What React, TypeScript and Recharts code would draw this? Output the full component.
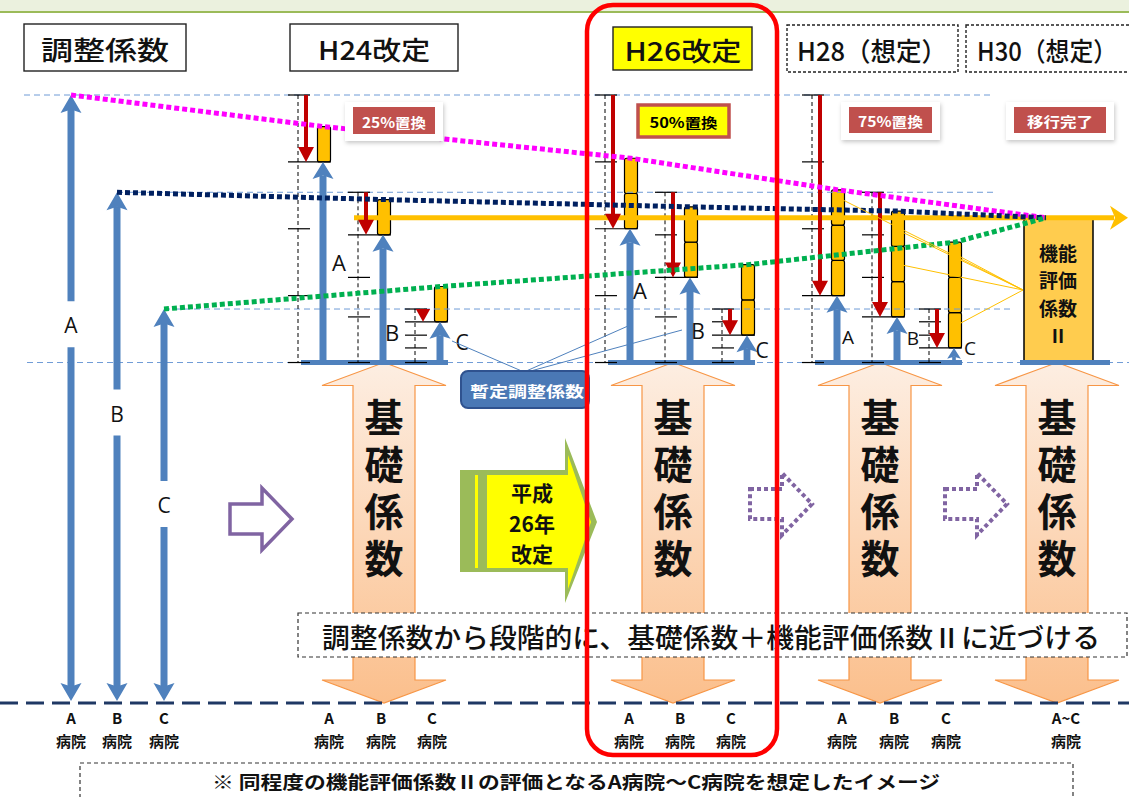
import React from 'react';
import { ComposedChart, XAxis, YAxis, Line, ReferenceLine, ReferenceArea } from 'recharts';

// ---- data (index: 0 = bottom dashed line, 100 = A病院の調整係数) ----
const stageNames = ['調整係数', 'H24改定', 'H26改定', 'H28（想定）', 'H30（想定）'];
const hospitals = ['A', 'B', 'C'];
const replaceNames = ['25%置換', '50%置換', '75%置換', '移行完了'];
const baseCoef = 56; // 基礎係数
// remaining adjustment level per stage: 調整係数, H24, H26, H28, H30
const levelA = [100, 89, 78, 67, 56];
const levelB = [84, 77, 70, 63.5, 56];
const levelC = [64.8, 62.7, 60.5, 58.4, 56];
// 機能評価係数Ⅱ replaced so far, per stage
const fevalPart = [0, 5.8, 11.6, 17.4, 23.8];
const targetCoef = baseCoef + fevalPart[4];

// ---- layout ----
const W = 1129;
const H = 797;
const PX = 6.08;
const ZERO_Y = 703;
const Y_DOMAIN = [(ZERO_Y - H) / PX, ZERO_Y / PX];
const LEFT_X = [71, 117, 164];
const STAGE_X = [323, 630, 837];
const HOSP_DX = [0, 60, 117];
const PEACH_X = [384, 673, 880, 1057];
const LEFT_LABEL_FRAC = [0.62, 0.565, 0.5];
const TREND_END_X = 1046;
const BLUE = '#4f81bd';
const RED = '#c00000';
const GOLD = '#ffc000';
const FONT = '"Noto Sans CJK JP", "Noto Sans", sans-serif';
const LATIN = '"Open Sans", "Noto Sans", sans-serif';
const levels = [levelA, levelB, levelC];
const trendColors = ['#ff00ff', '#002060', '#00b050'];

const head = (x: number, tip: number, dir: number, w: number, l: number, notch: number) => {
  const b = tip - dir * l;
  const n = tip - dir * l * notch;
  return `${x},${tip} ${x + w / 2},${b} ${x},${n} ${x - w / 2},${b}`;
};

const blueUpShape = (p: any) => {
  const x = p.x1, yb = p.y1, yt = p.y2;
  const len = yb - yt;
  const l = Math.min(17, len * 0.75);
  const w = Math.min(21, l * 1.25);
  return (
    <g>
      <line x1={x} y1={yb} x2={x} y2={yt + l * 0.8} stroke={BLUE} strokeWidth={Math.min(7, len / 4)} />
      <polygon points={head(x, yt, -1, w, l, 0.8)} fill={BLUE} />
    </g>
  );
};

const leftArrowShape = (label: string, frac: number) => (p: any) => {
  const x = p.x1, yb = p.y1 - 2, yt = p.y2;
  const ly = yb + (yt - yb) * frac;
  return (
    <g>
      <line x1={x} y1={yb - 14} x2={x} y2={ly + 22} stroke={BLUE} strokeWidth={7} />
      <line x1={x} y1={ly - 24} x2={x} y2={yt + 14} stroke={BLUE} strokeWidth={7} />
      <polygon points={head(x, yt, -1, 21, 18, 0.8)} fill={BLUE} />
      <polygon points={head(x, yb, 1, 21, 18, 0.8)} fill={BLUE} />
      <text x={x} y={ly} textAnchor="middle" dominantBaseline="central" fontFamily={LATIN} fontSize={21} fill="#111">
        {label}
      </text>
    </g>
  );
};

const redDownShape = (p: any) => {
  const x = p.x1, yt = p.y1, yb = p.y2;
  const len = yb - yt;
  const l = Math.min(15, len);
  const w = Math.min(16, 8 + len * 0.5);
  return (
    <g>
      {len > l && <line x1={x} y1={yt} x2={x} y2={yb - l + 1} stroke={RED} strokeWidth={4} />}
      <polygon points={head(x, yb, 1, w, l, 1)} fill={RED} />
    </g>
  );
};

const targetShape = (p: any) => (
  <g>
    <line x1={p.x1} y1={p.y1} x2={p.x2 - 14} y2={p.y2} stroke={GOLD} strokeWidth={5} />
    <polygon points={`${p.x2},${p.y2} ${p.x2 - 18},${p.y2 - 12} ${p.x2 - 13},${p.y2} ${p.x2 - 18},${p.y2 + 12}`} fill={GOLD} />
  </g>
);

const peachShape = (p: any) => {
  const cx = p.x + p.width / 2, top = p.y, bot = p.y + p.height;
  const hw = p.width / 2, sw = hw / 2, hl = 23;
  const pts = [
    [cx, top], [cx + hw, top + hl], [cx + sw, top + hl], [cx + sw, bot - hl], [cx + hw, bot - hl],
    [cx, bot], [cx - hw, bot - hl], [cx - sw, bot - hl], [cx - sw, top + hl], [cx - hw, top + hl],
  ];
  return <polygon points={pts.map((q) => q.join(',')).join(' ')} fill="url(#peachFill)" stroke="#f79646" strokeWidth={1.2} />;
};

const HEADER_LAYOUT = [
  { x: 24, y: 24, w: 162, h: 47, cx: 105, tw: 128, fill: '#fff', dashed: false },
  { x: 290, y: 24, w: 168, h: 47, cx: 374, tw: 112, fill: '#fff', dashed: false },
  { x: 613, y: 27, w: 139, h: 43, cx: 683, tw: 117, fill: '#ffff00', dashed: false },
  { x: 787, y: 25, w: 171, h: 47, cx: 872, tw: 150, fill: '#fff', dashed: true },
  { x: 966, y: 25, w: 172, h: 47, cx: 1047, tw: 140, fill: '#fff', dashed: true },
];

const REPLACE_LAYOUT = [
  { x: 353, y: 107, w: 82, h: 27, tw: 64, fill: '#c0504d', color: '#fff', frame: true },
  { x: 638, y: 105, w: 91, h: 32, tw: 68, fill: '#ffff00', color: '#000', frame: false },
  { x: 849, y: 107, w: 83, h: 26, tw: 65, fill: '#c0504d', color: '#fff', frame: true },
  { x: 1014, y: 107, w: 92, h: 26, tw: 66, fill: '#c0504d', color: '#fff', frame: true },
];

const STAGE_LABEL_POS = [
  [339, 262, 22], [392, 332, 22], [462, 342, 21],
  [640, 290, 22], [698, 331, 21], [762, 350, 21],
  [848, 337, 19], [913, 338, 19], [970, 348, 19],
];

const BOTTOM_X = [[71, 117, 164], [329, 381, 432], [629, 680, 731], [842, 894, 946]];

const rightArrow = (x0: number, cy: number) =>
  `${x0},${cy - 15} ${x0 + 32},${cy - 15} ${x0 + 32},${cy - 31} ${x0 + 62},${cy} ${x0 + 32},${cy + 31} ${x0 + 32},${cy + 15} ${x0},${cy + 15}`;

// several lines in one text element
const Stack = ({ x, y, step, lines, ...rest }: any) => (
  <text x={x} y={y} textAnchor="middle" dominantBaseline="central" {...rest}>
    {lines.map((ln: string, k: number) => (
      <tspan key={k} x={x} dy={k === 0 ? 0 : step}>{ln}</tspan>
    ))}
  </text>
);

function Overlay() {
  return (
    <svg width={W} height={H} style={{ position: 'absolute', left: 0, top: 0, pointerEvents: 'none' }} fontFamily={FONT}>
      <defs>
        <filter id="soft" x="-20%" y="-30%" width="140%" height="170%">
          <feDropShadow dx="1" dy="2" stdDeviation="2" floodColor="#000" floodOpacity="0.22" />
        </filter>
      </defs>
      <rect x={-2} y={-30} width={W + 4} height={42} fill="#ebf1de" stroke="#9bbb59" strokeWidth={2} />

      {HEADER_LAYOUT.map((b, i) => (
        <g key={'h' + i}>
          <rect x={b.x} y={b.y} width={b.w} height={b.h} fill={b.fill} stroke="#222" strokeWidth={1.4} strokeDasharray={b.dashed ? '3 2' : undefined} />
          <text x={b.cx} y={b.y + b.h / 2 + 1} textAnchor="middle" dominantBaseline="central" fontSize={26} fontWeight={500} textLength={b.tw} lengthAdjust="spacingAndGlyphs" fill="#111">
            {stageNames[i]}
          </text>
        </g>
      ))}

      {REPLACE_LAYOUT.map((b, i) => (
        <g key={'r' + i}>
          {b.frame && <rect x={b.x - 8} y={b.y - 5} width={b.w + 16} height={b.h + 12} fill="#fff" filter="url(#soft)" />}
          <rect x={b.x} y={b.y} width={b.w} height={b.h} fill={b.fill} stroke={b.frame ? 'none' : '#c0504d'} strokeWidth={3.5} />
          <text x={b.x + b.w / 2} y={b.y + b.h / 2 + 1} textAnchor="middle" dominantBaseline="central" fontSize={14} fontWeight={700} textLength={b.tw} lengthAdjust="spacingAndGlyphs" fill={b.color}>
            {replaceNames[i]}
          </text>
        </g>
      ))}

      {STAGE_LABEL_POS.map((q, i) => (
        <text key={'s' + i} x={q[0]} y={q[1]} textAnchor="middle" dominantBaseline="central" fontFamily={LATIN} fontSize={q[2]} fill="#111">
          {hospitals[i % 3]}
        </text>
      ))}

      <g stroke={BLUE} strokeWidth={1}>
        <line x1={524} y1={372} x2={452} y2={341} />
        <line x1={524} y1={372} x2={628} y2={326} />
        <line x1={527} y1={372} x2={682} y2={330} />
      </g>
      <rect x={461} y={371} width={128} height={37} rx={7} fill="#4a78b5" stroke="#2f528f" strokeWidth={2} />
      <text x={527} y={390} textAnchor="middle" dominantBaseline="central" fontSize={15} fontWeight={700} fill="#fff" textLength={114} lengthAdjust="spacingAndGlyphs">
        暫定調整係数
      </text>

      <polygon points={rightArrow(230, 519)} fill="#fff" stroke="#8064a2" strokeWidth={3.5} strokeLinejoin="miter" />
      <polygon points={rightArrow(750, 504)} fill="#fff" stroke="#8064a2" strokeWidth={4} strokeDasharray="4 3" />
      <polygon points={rightArrow(945, 504)} fill="#fff" stroke="#8064a2" strokeWidth={4} strokeDasharray="4 3" />

      <polygon points="460,470 565,470 565,438 597,522 565,603 565,572 460,572" fill="#9bbb59" />
      <polygon points="487,475 568,475 568,455 591,522 568,589 568,568 487,568" fill="#ffff00" />
      <rect x={475} y={475} width={3} height={93} fill="#ffff00" />
      <Stack x={532} y={492} step={30.5} lines={['平成', '26年', '改定']} fontSize={21} fontWeight={700} fill="#111" />

      {PEACH_X.map((cx, i) => (
        <text key={'p' + i} x={cx} y={398} writingMode="vertical-rl" letterSpacing={8} fontSize={39} fontWeight={700} fill="#111">
          基礎係数
        </text>
      ))}

      <rect x={298} y={613} width={829} height={44} fill="#fff" stroke="#333" strokeWidth={1.2} strokeDasharray="4 3" />
      <text x={711} y={636} textAnchor="middle" dominantBaseline="central" fontSize={27} fontWeight={500} textLength={778} lengthAdjust="spacingAndGlyphs" fill="#111">
        調整係数から段階的に、基礎係数＋機能評価係数Ⅱに近づける
      </text>

      {BOTTOM_X.map((row, s) =>
        row.map((x, h) => (
          <Stack key={'b' + s + h} x={x} y={717} step={23} lines={[hospitals[h], '病院']} fontSize={15} fontWeight={700} fill="#111" />
        ))
      )}
      <Stack x={1066} y={717} step={23} lines={[hospitals[0] + '~' + hospitals[2], '病院']} fontSize={15} fontWeight={700} fill="#111" />

      <rect x={80} y={763} width={993} height={50} fill="#fff" stroke="#333" strokeWidth={1.2} strokeDasharray="4 3" />
      <text x={576} y={781} textAnchor="middle" dominantBaseline="central" fontSize={18} fontWeight={700} textLength={728} lengthAdjust="spacingAndGlyphs" fill="#111">
        ※  同程度の機能評価係数Ⅱの評価となるA病院～C病院を想定したイメージ
      </text>

      <Stack x={1058} y={252} step={27.3} lines={['機能', '評価', '係数', 'Ⅱ']} fontSize={19} fontWeight={700} fill="#111" />

      <g stroke={GOLD} strokeWidth={1}>
        <line x1={1023} y1={290} x2={843} y2={200} />
        <line x1={1023} y1={290} x2={902} y2={232} />
        <line x1={1023} y1={290} x2={902} y2={265} />
        <line x1={1023} y1={290} x2={959} y2={256} />
        <line x1={1023} y1={290} x2={959} y2={324} />
      </g>

      <rect x={587} y={5} width={190} height={750} rx={26} fill="none" stroke="#ff0000" strokeWidth={4.5} />
    </svg>
  );
}

export default function App() {
  const guides = [
    { v: levelA[0], x1: 24, x2: 992 },
    { v: levelB[0], x1: 117, x2: 993 },
    { v: levelC[0], x1: 164, x2: 1010 },
    { v: baseCoef, x1: 27, x2: W },
  ];

  const stageMarks: React.ReactNode[] = [];
  [1, 2, 3].forEach((s) => {
    const sx = STAGE_X[s - 1];
    stageMarks.push(
      <ReferenceLine key={`base${s}`} segment={[{ x: sx - 22, y: baseCoef }, { x: sx + 125, y: baseCoef }]} stroke={BLUE} strokeWidth={5} />
    );
    hospitals.forEach((_, h) => {
      const ax = sx + HOSP_DX[h];
      const tx = ax - 25;
      const lv = levels[h];
      stageMarks.push(
        <ReferenceLine key={`dv${s}${h}`} segment={[{ x: tx, y: lv[0] }, { x: tx, y: baseCoef }]} stroke="#000" strokeWidth={1} strokeDasharray="4 3" />
      );
      lv.forEach((v, k) => {
        stageMarks.push(
          <ReferenceLine key={`tk${s}${h}${k}`} segment={[{ x: tx - 10, y: v }, { x: k === s ? ax + 8 : tx + 12, y: v }]} stroke="#000" strokeWidth={1.2} />
        );
      });
    });
  });

  const arrows: React.ReactNode[] = [];
  [1, 2, 3].forEach((s) => {
    hospitals.forEach((_, h) => {
      const ax = STAGE_X[s - 1] + HOSP_DX[h];
      const lv = levels[h];
      arrows.push(
        <ReferenceLine key={`bu${s}${h}`} segment={[{ x: ax, y: baseCoef }, { x: ax, y: lv[s] }]} shape={blueUpShape} />
      );
      for (let k = 1; k <= s; k++) {
        arrows.push(
          <ReferenceArea key={`fb${s}${h}${k}`} x1={ax - 5.5} x2={ax + 7.5} y1={lv[s] + fevalPart[k - 1]} y2={lv[s] + fevalPart[k]} fill={GOLD} fillOpacity={1} stroke="#000" strokeWidth={1.2} radius={2} />
        );
      }
      arrows.push(
        <ReferenceLine key={`rd${s}${h}`} segment={[{ x: ax - 17, y: lv[0] }, { x: ax - 17, y: lv[s] }]} shape={redDownShape} />
      );
    });
  });

  const trends = hospitals.map((_, h) => [
    { x: LEFT_X[h], v: levels[h][0] },
    ...[1, 2, 3].map((s) => ({ x: STAGE_X[s - 1] + HOSP_DX[h] + 1, v: levels[h][s] + fevalPart[s] })),
    { x: TREND_END_X, v: levels[h][4] + fevalPart[4] },
  ]);

  return (
    <div style={{ position: 'absolute', left: 0, top: 0, width: W, height: H, background: '#fff', overflow: 'hidden' }}>
      <ComposedChart width={W} height={H} margin={{ top: 0, right: 0, bottom: 0, left: 0 }}>
        <defs>
          <linearGradient id="peachFill" x1="0" y1="0" x2="0" y2="1">
            <stop offset="0%" stopColor="#fdeee2" />
            <stop offset="100%" stopColor="#fbbf8c" />
          </linearGradient>
        </defs>
        <XAxis type="number" dataKey="x" domain={[0, W]} hide allowDataOverflow />
        <YAxis type="number" domain={Y_DOMAIN} hide allowDataOverflow />

        {guides.map((g, i) => (
          <ReferenceLine key={'g' + i} segment={[{ x: g.x1, y: g.v }, { x: g.x2, y: g.v }]} stroke="#6f9bd6" strokeWidth={1} strokeDasharray="6 4" />
        ))}

        {PEACH_X.map((cx, i) => (
          <ReferenceArea key={'pa' + i} x1={cx - 62} x2={cx + 62} y1={0} y2={baseCoef} shape={peachShape} />
        ))}

        <ReferenceLine y={0} stroke="#1f3864" strokeWidth={3} strokeDasharray="18 8" />

        {hospitals.map((name, h) => (
          <ReferenceLine key={'la' + h} segment={[{ x: LEFT_X[h], y: 0 }, { x: LEFT_X[h], y: levels[h][0] }]} shape={leftArrowShape(name, LEFT_LABEL_FRAC[h])} />
        ))}

        {stageMarks}

        <ReferenceLine segment={[{ x: 354, y: targetCoef }, { x: 1128, y: targetCoef }]} shape={targetShape} />
        <ReferenceLine segment={[{ x: 1020, y: baseCoef }, { x: 1110, y: baseCoef }]} stroke={BLUE} strokeWidth={5} />

        {arrows}

        <ReferenceArea x1={1024} x2={1093} y1={baseCoef} y2={targetCoef} fill="#ffcc4e" fillOpacity={1} stroke="#000" strokeWidth={1.5} />

        {trends.map((d, h) => (
          <Line key={'t' + h} data={d} dataKey="v" type="linear" stroke={trendColors[h]} strokeWidth={5} strokeDasharray="5 3" dot={false} activeDot={false} legendType="none" isAnimationActive={false} />
        ))}
      </ComposedChart>
      <Overlay />
    </div>
  );
}
